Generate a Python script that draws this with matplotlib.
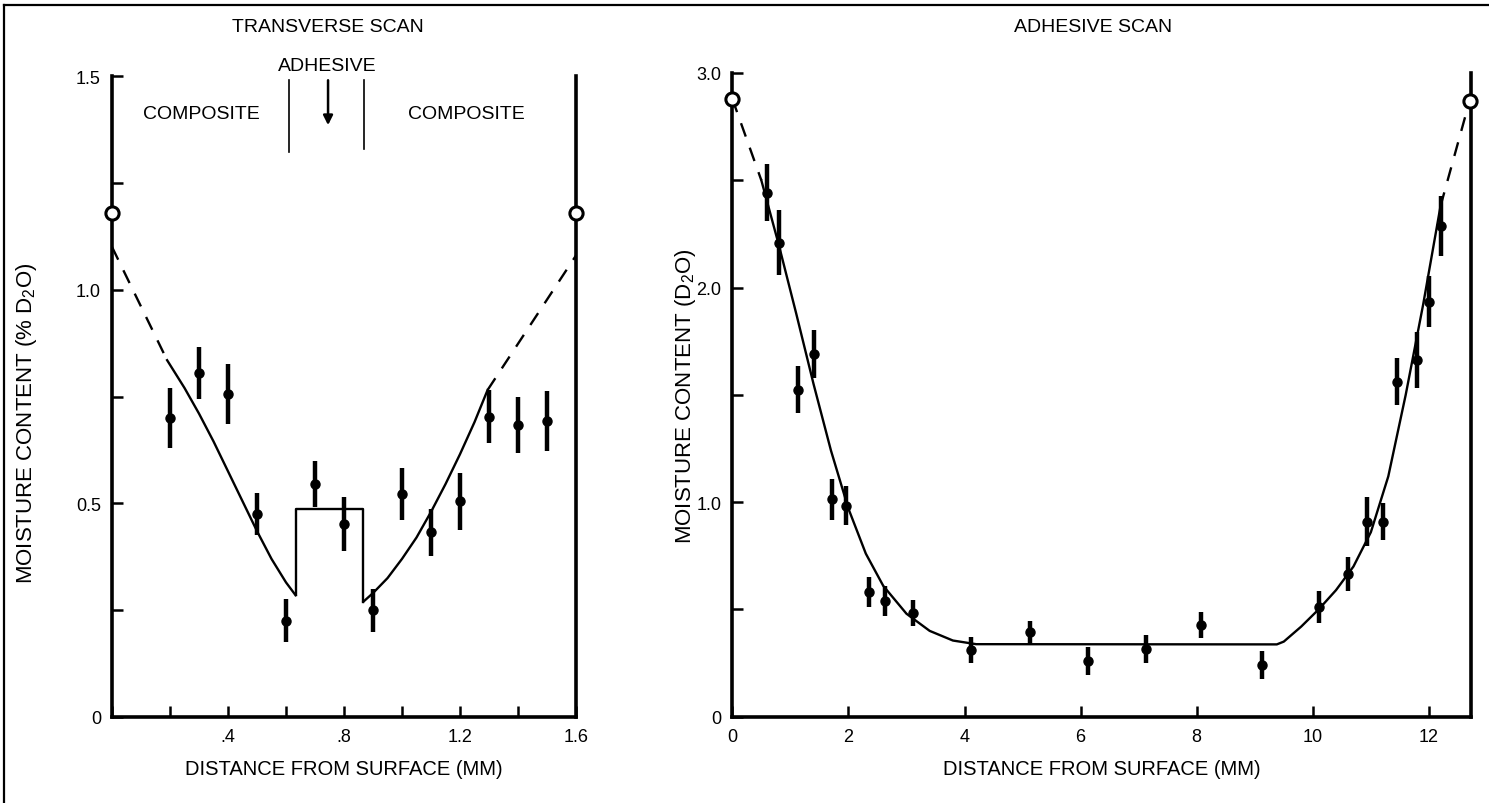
import matplotlib
matplotlib.use("Agg")
import matplotlib.pyplot as plt
from matplotlib.lines import Line2D

plt.rcParams['font.family'] = ['Liberation Sans', 'DejaVu Sans']
plt.rcParams['mathtext.default'] = 'regular'

### transverse scan measurements (% D2O) with error bar half-heights
trans_x = [0.2, 0.3, 0.4, 0.5, 0.6, 0.7, 0.8, 0.9, 1.0, 1.1, 1.2, 1.3, 1.4, 1.5]
trans_y = [0.70, 0.805, 0.755, 0.475, 0.225, 0.545, 0.452, 0.25, 0.522, 0.432, 0.505, 0.703, 0.684, 0.692]
trans_err = [0.07, 0.06, 0.07, 0.05, 0.05, 0.053, 0.063, 0.05, 0.06, 0.055, 0.067, 0.062, 0.066, 0.07]

### surface values (open circles)
trans_surf_x = [0.0, 1.6]
trans_surf_y = [1.18, 1.18]

### fitted profile pieces
trans_dash_l_x = [0.0, 0.19]
trans_dash_l_y = [1.10, 0.835]
trans_fit_l_x = [0.19, 0.25, 0.30, 0.35, 0.40, 0.45, 0.50, 0.55, 0.60, 0.633]
trans_fit_l_y = [0.835, 0.77, 0.71, 0.645, 0.575, 0.505, 0.435, 0.37, 0.315, 0.285]
trans_adh_x = [0.633, 0.633, 0.867, 0.867]
trans_adh_y = [0.285, 0.486, 0.486, 0.27]
trans_fit_r_x = [0.867, 0.90, 0.95, 1.00, 1.05, 1.10, 1.15, 1.20, 1.25, 1.295]
trans_fit_r_y = [0.27, 0.29, 0.325, 0.37, 0.42, 0.48, 0.545, 0.615, 0.69, 0.765]
trans_dash_r_x = [1.295, 1.6]
trans_dash_r_y = [0.765, 1.08]

### adhesive scan measurements (D2O)
adh_x = [0.6, 0.8, 1.13, 1.40, 1.72, 1.96, 2.36, 2.63, 3.12, 4.11, 5.12, 6.12, 7.12, 8.07,
         9.12, 10.11, 10.61, 10.94, 11.21, 11.45, 11.80, 12.0, 12.2]
adh_y = [2.443, 2.21, 1.524, 1.69, 1.014, 0.983, 0.583, 0.541, 0.483, 0.312, 0.393, 0.261, 0.316, 0.427,
         0.242, 0.510, 0.665, 0.909, 0.909, 1.561, 1.664, 1.934, 2.288]
adh_err = [0.135, 0.15, 0.11, 0.11, 0.095, 0.09, 0.07, 0.07, 0.06, 0.06, 0.055, 0.065, 0.065, 0.06,
           0.065, 0.075, 0.08, 0.115, 0.085, 0.11, 0.13, 0.12, 0.14]

adh_surf_x = [0.0, 12.7]
adh_surf_y = [2.88, 2.87]

adh_dash_l_x = [0.0, 0.5]
adh_dash_l_y = [2.88, 2.50]
adh_fit_x = [0.5, 0.8, 1.1, 1.4, 1.7, 2.0, 2.3, 2.6, 3.0, 3.4, 3.8, 4.2, 9.38,
             9.5, 9.8, 10.1, 10.4, 10.7, 11.0, 11.3, 11.6, 11.9, 12.2]
adh_fit_y = [2.50, 2.20, 1.88, 1.55, 1.24, 0.97, 0.76, 0.61, 0.48, 0.40, 0.355, 0.338, 0.337,
             0.35, 0.42, 0.50, 0.59, 0.70, 0.86, 1.12, 1.50, 1.92, 2.38]
adh_dash_r_x = [12.2, 12.7]
adh_dash_r_y = [2.38, 2.87]

fs = 14        # titles and region labels
xfs = 14.5     # x axis labels
yfs = 16       # y axis labels
tfs = 13       # tick labels
fig = plt.figure(figsize=(14.89, 8.04), dpi=100)

ax1 = fig.add_axes([112 / 1489, 86 / 804, 464 / 1489, 641 / 804])
ax2 = fig.add_axes([732.3 / 1489, 86.3 / 804, 739 / 1489, 643.7 / 804])

def style_axes(ax):
    ax.spines['top'].set_visible(False)
    for s in ['left', 'bottom', 'right']:
        ax.spines[s].set_linewidth(2.6)
        ax.spines[s].set_capstyle('projecting')
    ax.tick_params(axis='both', which='both', direction='in', length=8, width=1.8,
                   labelsize=tfs, top=False, right=False)
    ax.tick_params(axis='y', pad=8)
    ax.tick_params(axis='x', pad=8)

err_kw = dict(fmt='o', color='black', markersize=6.5, elinewidth=3.2, capsize=0, zorder=4)
open_kw = dict(marker='o', markersize=9.5, markerfacecolor='white', markeredgecolor='black',
               markeredgewidth=2.2, linestyle='none', clip_on=False, zorder=5)
line_kw = dict(color='black', linewidth=1.7, zorder=3)
dash_kw = dict(color='black', linewidth=1.7, dashes=(6, 5), zorder=3)

### transverse scan
ax1.plot(trans_dash_l_x, trans_dash_l_y, **dash_kw)
ax1.plot(trans_fit_l_x, trans_fit_l_y, **line_kw)
ax1.plot(trans_adh_x, trans_adh_y, **line_kw)
ax1.plot(trans_fit_r_x, trans_fit_r_y, **line_kw)
ax1.plot(trans_dash_r_x, trans_dash_r_y, **dash_kw)
ax1.errorbar(trans_x, trans_y, yerr=trans_err, **err_kw)
ax1.plot(trans_surf_x, trans_surf_y, **open_kw)

ax1.set_xlim(0, 1.6)
ax1.set_ylim(0, 1.5)
style_axes(ax1)
ax1.set_xticks([0, 0.2, 0.4, 0.6, 0.8, 1.0, 1.2, 1.4, 1.6])
ax1.set_xticklabels(['', '', '.4', '', '.8', '', '1.2', '', '1.6'])
ax1.set_yticks([0, 0.25, 0.5, 0.75, 1.0, 1.25, 1.5])
ax1.set_yticklabels(['0', '', '0.5', '', '1.0', '', '1.5'])
ax1.set_xlabel('DISTANCE FROM SURFACE (MM)', fontsize=xfs, labelpad=10)
ax1.set_ylabel('MOISTURE CONTENT (% D$_2$O)', fontsize=yfs)
ax1.yaxis.set_label_coords(-0.158, 0.46)

### region labels above the transverse profile
ax1.plot([0.612, 0.612], [1.323, 1.49], color='black', linewidth=1.2, clip_on=False)
ax1.plot([0.870, 0.870], [1.33, 1.49], color='black', linewidth=1.2, clip_on=False)
ax1.annotate('', xy=(0.745, 1.385), xytext=(0.745, 1.49),
             arrowprops=dict(arrowstyle='-|>', color='black', lw=1.8, mutation_scale=14,
                             shrinkA=0, shrinkB=0), annotation_clip=False)
ax1.text(0.743, 1.525, 'ADHESIVE', ha='center', va='center', fontsize=fs)
ax1.text(0.307, 1.412, 'COMPOSITE', ha='center', va='center', fontsize=fs)
ax1.text(1.221, 1.412, 'COMPOSITE', ha='center', va='center', fontsize=fs)

### adhesive scan
ax2.plot(adh_dash_l_x, adh_dash_l_y, **dash_kw)
ax2.plot(adh_fit_x, adh_fit_y, **line_kw)
ax2.plot(adh_dash_r_x, adh_dash_r_y, **dash_kw)
ax2.errorbar(adh_x, adh_y, yerr=adh_err, **err_kw)
ax2.plot(adh_surf_x, adh_surf_y, **open_kw)

ax2.set_xlim(0, 12.73)
ax2.set_ylim(0, 3.0)
style_axes(ax2)
ax2.set_xticks([0, 2, 4, 6, 8, 10, 12])
ax2.set_xticklabels(['0', '2', '4', '6', '8', '10', '12'])
ax2.set_yticks([0, 0.5, 1.0, 1.5, 2.0, 2.5, 3.0])
ax2.set_yticklabels(['0', '', '1.0', '', '2.0', '', '3.0'])
ax2.set_xlabel('DISTANCE FROM SURFACE (MM)', fontsize=xfs, labelpad=10)
ax2.set_ylabel('MOISTURE CONTENT (D$_2$O)', fontsize=yfs)
ax2.yaxis.set_label_coords(-0.046, 0.5)

### panel titles
fig.text(328 / 1489, 1 - 28 / 804, 'TRANSVERSE SCAN', ha='center', va='center', fontsize=fs)
fig.text(1093 / 1489, 1 - 28 / 804, 'ADHESIVE SCAN', ha='center', va='center', fontsize=fs)

### page frame (top and left edges)
fig.add_artist(Line2D([4 / 1489, 4 / 1489], [0, 1 - 6 / 804], color='black', linewidth=1.6))
fig.add_artist(Line2D([4 / 1489, 1], [1 - 6 / 804, 1 - 6 / 804], color='black', linewidth=1.6))

fig.savefig('out.png', dpi=100)
